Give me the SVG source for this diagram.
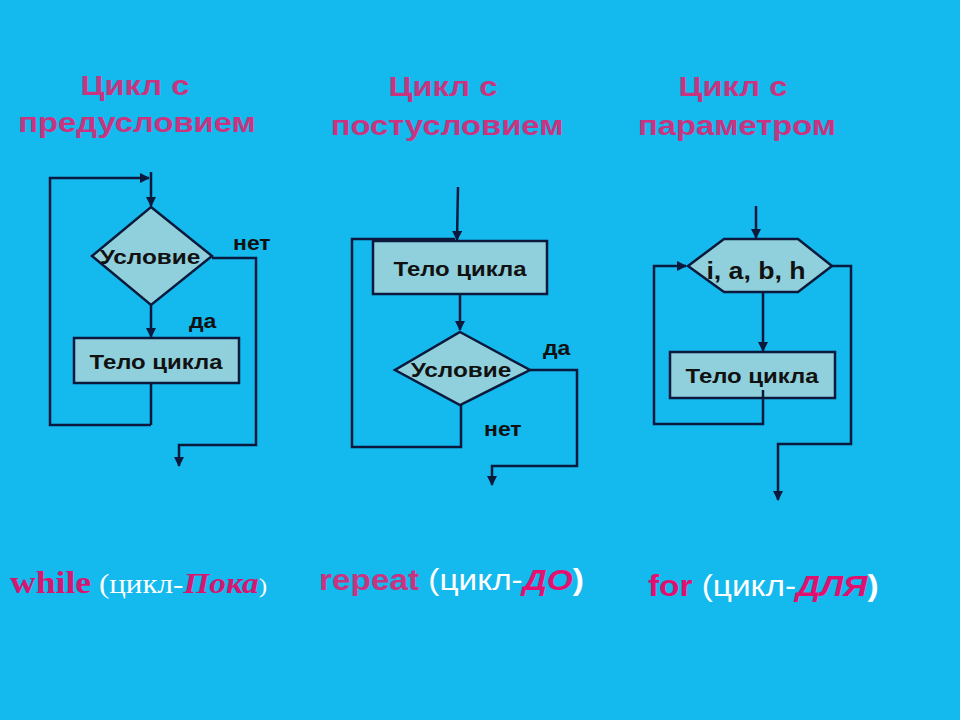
<svg xmlns="http://www.w3.org/2000/svg" width="960" height="720" viewBox="0 0 960 720">
<defs>
<marker id="ah" viewBox="0 0 10 10" refX="9" refY="5" markerWidth="4" markerHeight="4" orient="auto" markerUnits="strokeWidth">
<path d="M0,0 L10,5 L0,10 z" fill="#0b1a3c"/>
</marker>
<style>
.title{font-family:"Liberation Sans",Arial,sans-serif;font-weight:bold;font-size:28px;fill:#c8347f;text-anchor:middle}
.shape{fill:#8fd0dc;stroke:#0b1a3c;stroke-width:2.5}
.lbl{font-family:"Liberation Sans",Arial,sans-serif;font-weight:bold;font-size:21px;fill:#111;text-anchor:middle}
.yn{font-family:"Liberation Sans",Arial,sans-serif;font-weight:bold;font-size:20px;fill:#111}
.ln{fill:none;stroke:#0b1a3c;stroke-width:2.5}
.arr{fill:none;stroke:#0b1a3c;stroke-width:2.5;marker-end:url(#ah)}
.sans{font-family:"Liberation Sans",Arial,sans-serif;font-size:29px}
.serif{font-family:"Liberation Serif","Times New Roman",serif;font-size:29px}
</style>
</defs>
<rect width="960" height="720" fill="#14b9ee"/>

<g id="titles">
<text class="title" transform="translate(135,95) scale(1.17,1)">Цикл с</text>
<text class="title" transform="translate(137,132) scale(1.17,1)">предусловием</text>
<text class="title" transform="translate(443,96) scale(1.17,1)">Цикл с</text>
<text class="title" transform="translate(447,135) scale(1.17,1)">постусловием</text>
<text class="title" transform="translate(733,96) scale(1.17,1)">Цикл с</text>
<text class="title" transform="translate(737,135) scale(1.17,1)">параметром</text>
</g>

<g id="connectors">
<!-- left -->
<path class="arr" d="M151,172 V206"/>
<path class="arr" d="M151,425 H50 V178 H149"/>
<path class="ln" d="M151,383 V425"/>
<path class="arr" d="M151,305 V337"/>
<path class="arr" d="M212,258 H256 V445 H179 V466"/>
<!-- middle -->
<path class="arr" d="M458,187 L457,240"/>
<path class="ln" d="M461,405 V447 H352 V239 H455"/>
<path class="arr" d="M460,294 V330"/>
<path class="arr" d="M530,370 H577 V466 H492 V485"/>
<!-- right -->
<path class="arr" d="M756,206 V238"/>
<path class="arr" d="M763,292 V351"/>
<path class="arr" d="M763,390 V424 H654 V266 H686"/>
<path class="arr" d="M832,266 H851 V444 H778 V500"/>
</g>

<g id="n1-cond">
<polygon class="shape" points="151,207 212,256 151,305 92,256"/>
<text class="lbl" transform="translate(150,264) scale(1.16,1)">Условие</text>
</g>
<g id="n1-body">
<rect class="shape" x="74" y="338" width="165" height="45"/>
<text class="lbl" transform="translate(156,369) scale(1.14,1)">Тело цикла</text>
</g>
<g id="n1-labels">
<text class="yn" transform="translate(233,250) scale(1.15,1)">нет</text>
<text class="yn" transform="translate(189,328) scale(1.15,1)">да</text>
</g>

<g id="n2-body">
<rect class="shape" x="373" y="241" width="174" height="53"/>
<text class="lbl" transform="translate(460,276) scale(1.14,1)">Тело цикла</text>
</g>
<g id="n2-cond">
<polygon class="shape" points="460,332 530,370 460,405 395,370"/>
<text class="lbl" transform="translate(461,377) scale(1.16,1)">Условие</text>
</g>
<g id="n2-labels">
<text class="yn" transform="translate(543,355) scale(1.15,1)">да</text>
<text class="yn" transform="translate(484,436) scale(1.15,1)">нет</text>
</g>

<g id="n3-param">
<polygon class="shape" points="688,266 724,239 798,239 832,266 798,292 724,292"/>
<text class="lbl" transform="translate(756,279) scale(1.16,1)" style="font-size:23px">i, a, b, h</text>
</g>
<g id="n3-body">
<rect class="shape" x="670" y="352" width="165" height="46"/>
<text class="lbl" transform="translate(752,383) scale(1.14,1)">Тело цикла</text>
<path class="ln" d="M763,390 V398"/>
</g>

<g id="captions">
<text transform="translate(10,593) scale(1.15,1)" class="serif"><tspan font-weight="bold" fill="#d8156f" font-size="31">while</tspan><tspan fill="#ffffff" font-size="27"> (цикл-</tspan><tspan font-weight="bold" font-style="italic" fill="#d8156f">Пока</tspan><tspan fill="#ffffff" font-size="22">)</tspan></text>
<text transform="translate(319,590) scale(1.15,1)" class="sans"><tspan font-weight="bold" fill="#c8347f">repeat</tspan><tspan fill="#ffffff"> (цикл-</tspan><tspan font-weight="bold" font-style="italic" fill="#e6106e">ДО</tspan><tspan fill="#ffffff" font-weight="bold">)</tspan></text>
<text transform="translate(648,596) scale(1.15,1)" class="sans"><tspan font-weight="bold" fill="#e0106e">for</tspan><tspan fill="#ffffff"> (цикл-</tspan><tspan font-weight="bold" font-style="italic" fill="#e0106e">ДЛЯ</tspan><tspan fill="#ffffff" font-weight="bold">)</tspan></text>
</g>
</svg>
